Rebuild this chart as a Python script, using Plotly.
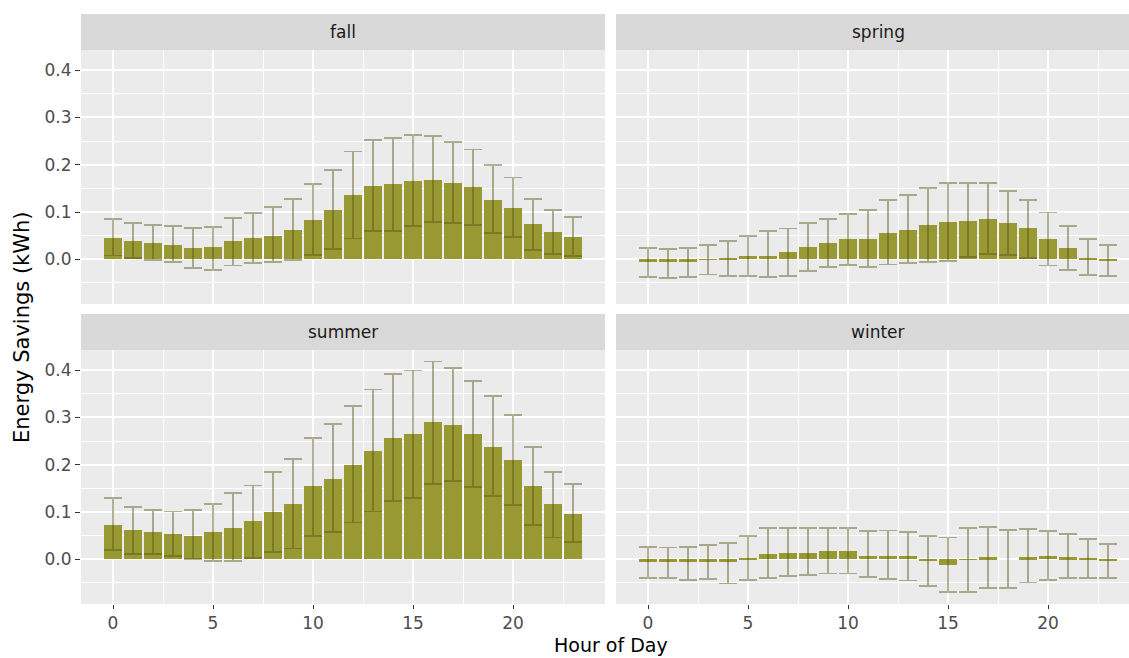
import plotly.graph_objects as go

# Hourly mean energy savings (kWh) with 95% interval bounds, by season
hours = list(range(24))

fall_mean = [0.045, 0.038, 0.035, 0.031, 0.023, 0.025, 0.038, 0.045, 0.050, 0.061, 0.084, 0.104,
             0.136, 0.155, 0.159, 0.165, 0.168, 0.162, 0.152, 0.126, 0.109, 0.074, 0.057, 0.048]
fall_lo = [0.008, 0.003, -0.002, -0.006, -0.019, -0.022, -0.013, -0.007, -0.006, -0.002, 0.009, 0.021,
           0.044, 0.059, 0.059, 0.071, 0.079, 0.076, 0.072, 0.056, 0.047, 0.020, 0.011, 0.007]
fall_hi = [0.085, 0.076, 0.073, 0.071, 0.066, 0.069, 0.088, 0.098, 0.111, 0.128, 0.160, 0.188,
           0.228, 0.252, 0.257, 0.262, 0.261, 0.248, 0.232, 0.199, 0.173, 0.128, 0.105, 0.089]

spring_mean = [-0.006, -0.006, -0.006, -0.001, 0.002, 0.008, 0.008, 0.015, 0.025, 0.035, 0.042, 0.042,
               0.056, 0.062, 0.072, 0.079, 0.082, 0.085, 0.076, 0.066, 0.043, 0.023, 0.001, -0.002]
spring_lo = [-0.037, -0.039, -0.038, -0.032, -0.036, -0.035, -0.038, -0.035, -0.024, -0.017, -0.012, -0.017,
             -0.011, -0.008, -0.005, -0.004, 0.005, 0.012, 0.009, 0.003, -0.013, -0.023, -0.033, -0.036]
spring_hi = [0.024, 0.022, 0.024, 0.030, 0.038, 0.050, 0.060, 0.065, 0.077, 0.086, 0.096, 0.105,
             0.126, 0.136, 0.150, 0.161, 0.162, 0.162, 0.145, 0.126, 0.099, 0.070, 0.043, 0.030]

summer_mean = [0.073, 0.061, 0.057, 0.054, 0.050, 0.057, 0.066, 0.080, 0.099, 0.116, 0.155, 0.170,
               0.199, 0.229, 0.257, 0.264, 0.290, 0.283, 0.264, 0.238, 0.209, 0.155, 0.116, 0.096]
summer_lo = [0.020, 0.011, 0.011, 0.007, 0.000, -0.004, -0.004, 0.002, 0.016, 0.023, 0.049, 0.057,
             0.078, 0.101, 0.124, 0.130, 0.159, 0.165, 0.153, 0.133, 0.114, 0.073, 0.046, 0.037]
summer_hi = [0.130, 0.111, 0.104, 0.101, 0.104, 0.117, 0.140, 0.156, 0.185, 0.212, 0.257, 0.286,
             0.324, 0.359, 0.392, 0.399, 0.418, 0.405, 0.377, 0.346, 0.305, 0.237, 0.184, 0.159]

winter_mean = [-0.005, -0.005, -0.005, -0.005, -0.005, 0.001, 0.011, 0.014, 0.014, 0.018, 0.018, 0.008,
               0.008, 0.006, -0.002, -0.011, -0.001, 0.004, 0.000, 0.004, 0.007, 0.004, 0.001, -0.002]
winter_lo = [-0.040, -0.040, -0.043, -0.042, -0.051, -0.044, -0.040, -0.035, -0.033, -0.030, -0.030, -0.038,
             -0.041, -0.045, -0.056, -0.069, -0.069, -0.061, -0.061, -0.049, -0.043, -0.040, -0.040, -0.040]
winter_hi = [0.026, 0.025, 0.026, 0.030, 0.034, 0.049, 0.066, 0.067, 0.066, 0.066, 0.066, 0.059,
             0.061, 0.057, 0.049, 0.046, 0.066, 0.069, 0.062, 0.064, 0.059, 0.053, 0.043, 0.033]

seasons = ["fall", "spring", "summer", "winter"]
means = [fall_mean, spring_mean, summer_mean, winter_mean]
lows = [fall_lo, spring_lo, summer_lo, winter_lo]
highs = [fall_hi, spring_hi, summer_hi, winter_hi]

y_ticks = [0.0, 0.1, 0.2, 0.3, 0.4]
y_ticklabels = ["0.0", "0.1", "0.2", "0.3", "0.4"]
x_ticks = [0, 5, 10, 15, 20]

W, H = 1129, 658
BAR = "#999933"
ERR = "rgba(85,85,20,0.45)"
PANEL_BG = "#EBEBEB"
STRIP_BG = "#D9D9D9"
FONT = "DejaVu Sans"

# facet geometry in pixels (left, right, top, bottom)
cols = [(81, 605), (616, 1140)]
rows = [(50, 304), (350, 604)]
strip_h = 36
x_unit = 20.0  # px per hour
x_lo = -1.6
y_range = [-0.0945, 0.4425]


def px_x(v):
    return v / W


def px_y(v):
    return 1 - v / H


fig = go.Figure()
layout = dict(
    width=W, height=H,
    margin=dict(l=0, r=0, t=0, b=0),
    paper_bgcolor="white", plot_bgcolor=PANEL_BG,
    showlegend=False, bargap=0,
    font=dict(family=FONT, color="#4D4D4D", size=17),
)
shapes, annotations = [], []

for i, season in enumerate(seasons):
    r, c = divmod(i, 2)
    left, right = cols[c]
    top, bottom = rows[r]
    vis_right = min(right, W)
    x_hi = x_lo + (vis_right - left) / x_unit
    n = "" if i == 0 else str(i + 1)

    m, lo, hi = means[i], lows[i], highs[i]
    fig.add_trace(go.Bar(
        x=hours, y=m, width=0.9,
        marker=dict(color=BAR, line=dict(width=0)),
        error_y=dict(type="data", symmetric=False,
                     array=[h - v for h, v in zip(hi, m)],
                     arrayminus=[v - l for v, l in zip(m, lo)],
                     color=ERR, thickness=1.8, width=9),
        xaxis="x" + n, yaxis="y" + n,
    ))

    layout["xaxis" + n] = dict(
        domain=[px_x(left), px_x(vis_right)], range=[x_lo, x_hi],
        anchor="y" + n, showgrid=True, gridcolor="white", gridwidth=1.6,
        tickmode="array", tickvals=x_ticks, ticktext=[str(t) for t in x_ticks],
        zeroline=False, showline=False,
        ticks="outside" if r == 1 else "", ticklen=4, tickwidth=1.3, tickcolor="#333333",
        showticklabels=(r == 1), tickfont=dict(size=17, color="#4D4D4D"),
        minor=dict(tickvals=[2.5, 7.5, 12.5, 17.5, 22.5], showgrid=True,
                   gridcolor="white", gridwidth=0.8, ticks=""),
    )
    layout["yaxis" + n] = dict(
        domain=[px_y(bottom), px_y(top)], range=y_range,
        anchor="x" + n, showgrid=True, gridcolor="white", gridwidth=1.6,
        tickmode="array", tickvals=y_ticks, ticktext=y_ticklabels,
        zeroline=False, showline=False,
        ticks="outside" if c == 0 else "", ticklen=5, tickwidth=1.3, tickcolor="#333333",
        showticklabels=(c == 0), tickfont=dict(size=17, color="#4D4D4D"),
        minor=dict(tickvals=[-0.05, 0.05, 0.15, 0.25, 0.35], showgrid=True,
                   gridcolor="white", gridwidth=0.8, ticks=""),
    )

    # facet strip
    shapes.append(dict(type="rect", xref="paper", yref="paper",
                       x0=px_x(left), x1=px_x(right), y0=px_y(top), y1=px_y(top - strip_h),
                       fillcolor=STRIP_BG, line=dict(width=0), layer="below"))
    annotations.append(dict(text=season, xref="paper", yref="paper",
                            x=px_x((left + right) / 2), y=px_y(top - strip_h / 2),
                            xanchor="center", yanchor="middle", showarrow=False,
                            font=dict(family=FONT, size=17, color="#1A1A1A")))

annotations.append(dict(text="Hour of Day", xref="paper", yref="paper",
                        x=px_x((cols[0][0] + cols[1][1]) / 2), y=0,
                        xanchor="center", yanchor="bottom", showarrow=False,
                        font=dict(family=FONT, size=19, color="black")))
annotations.append(dict(text="Energy Savings (kWh)", xref="paper", yref="paper",
                        x=px_x(22), y=px_y((rows[0][0] + rows[1][1]) / 2),
                        xanchor="center", yanchor="middle", textangle=-90, showarrow=False,
                        font=dict(family=FONT, size=21, color="black")))

layout["shapes"] = shapes
layout["annotations"] = annotations
fig.update_layout(**layout)
fig.write_html("out.html")
